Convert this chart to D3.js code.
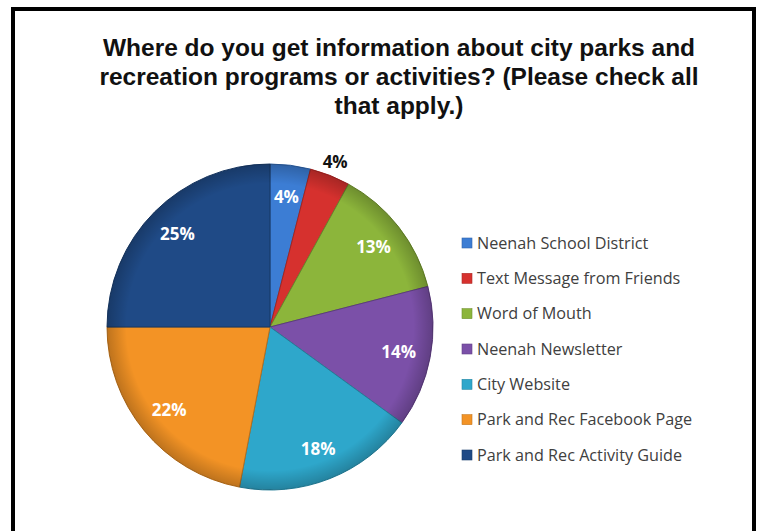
<!DOCTYPE html>
<html>
<head>
<meta charset="utf-8">
<script src="https://cdn.jsdelivr.net/npm/d3@7"></script>
<style>
  body { margin: 0; background: #fff; }
  svg { display: block; }
</style>
</head>
<body>
<script>
// chart data
var categories = ["Neenah School District", "Text Message from Friends", "Word of Mouth",
  "Neenah Newsletter", "City Website", "Park and Rec Facebook Page", "Park and Rec Activity Guide"];
var values = [4, 4, 13, 14, 18, 22, 25];
var colors = ["#3c7dd4", "#d6312e", "#8cb53b", "#7b50a8", "#2ea7cb", "#f39325", "#1f4a86"];
var titleLines = ["Where do you get information about city parks and",
  "recreation programs or activities? (Please check all",
  "that apply.)"];

var width = 760, height = 531;

var svg = d3.select("body").append("svg")
  .attr("width", width)
  .attr("height", height);

// frame
svg.append("rect")
  .attr("x", 13).attr("y", 9)
  .attr("width", 741).attr("height", 540)
  .attr("fill", "#fff")
  .attr("stroke", "#000")
  .attr("stroke-width", 4);

// title
svg.append("g").selectAll("text")
  .data(titleLines)
  .join("text")
  .attr("x", 399)
  .attr("y", (d, i) => 56 + i * 29)
  .attr("text-anchor", "middle")
  .style("font-family", "Liberation Sans, Arial, sans-serif")
  .style("font-weight", "bold")
  .style("font-size", "24.5px")
  .attr("fill", "#111")
  .text(d => d);

// pie
var cx = 270, cy = 327, r = 163;
var pie = d3.pie().sort(null).value(d => d)(values);
var arc = d3.arc().innerRadius(0).outerRadius(r);
var labelArc = d3.arc().innerRadius(131).outerRadius(131);
var outerArc = d3.arc().innerRadius(177).outerRadius(177);

var defs = svg.append("defs");
var rim = defs.append("radialGradient").attr("id", "rim")
  .attr("gradientUnits", "userSpaceOnUse")
  .attr("cx", 0).attr("cy", 0).attr("r", r);
rim.append("stop").attr("offset", "0.88").attr("stop-color", "#000").attr("stop-opacity", 0);
rim.append("stop").attr("offset", "1").attr("stop-color", "#000").attr("stop-opacity", 0.22);

var g = svg.append("g").attr("transform", "translate(" + cx + "," + cy + ")");

g.selectAll("path.slice")
  .data(pie)
  .join("path")
  .attr("class", "slice")
  .attr("d", arc)
  .attr("fill", (d, i) => colors[i])
  .attr("stroke", (d, i) => d3.color(colors[i]).darker(0.8))
  .attr("stroke-width", 1);

g.append("circle").attr("r", r).attr("fill", "url(#rim)");

// data labels (the small red slice gets its label outside, in black)
g.selectAll("text.lbl")
  .data(pie)
  .join("text")
  .attr("class", "lbl")
  .attr("transform", (d, i) => "translate(" + (i == 1 ? outerArc : labelArc).centroid(d) + ")")
  .attr("text-anchor", "middle")
  .attr("dy", "0.35em")
  .style("font-family", "Open Sans, sans-serif")
  .style("font-weight", "bold")
  .style("font-size", "17px")
  .attr("fill", (d, i) => i == 1 ? "#111" : "#fff")
  .text(d => d.data + "%");

// legend
var y = d3.scalePoint().domain(categories).range([243, 455]);
var leg = svg.append("g").selectAll("g")
  .data(categories)
  .join("g")
  .attr("transform", d => "translate(462," + y(d) + ")");

leg.append("rect")
  .attr("x", 0).attr("y", -5)
  .attr("width", 10).attr("height", 10)
  .attr("fill", (d, i) => colors[i])
  .attr("stroke", (d, i) => d3.color(colors[i]).darker(0.6))
  .attr("stroke-width", 0.6);

leg.append("text")
  .attr("x", 15)
  .attr("dy", "0.35em")
  .style("font-family", "Open Sans, sans-serif")
  .style("font-size", "16.2px")
  .attr("fill", "#404040")
  .text(d => d);
</script>
</body>
</html>
